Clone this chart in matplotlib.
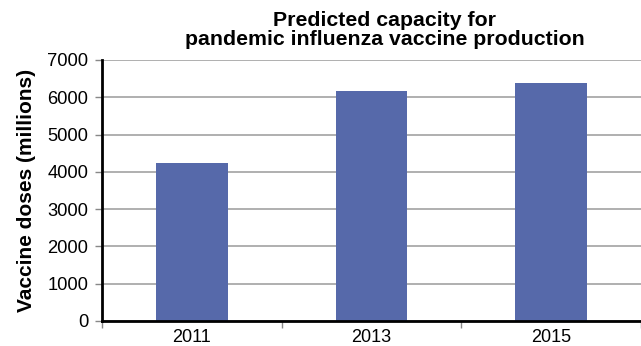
import matplotlib.pyplot as plt
import numpy as np

# Predicted pandemic vaccine production capacity
years = ['2011', '2013', '2015']
doses = [4250, 6170, 6370]

plt.rcParams['font.family'] = ['Liberation Sans', 'DejaVu Sans']

fig = plt.figure(figsize=(6.41, 3.46), dpi=100)
ax = fig.add_axes([0.159, 0.0723, 0.841, 0.7543])

x = np.arange(len(years))
ax.bar(x, doses, width=0.4, color='#5669AA', zorder=3)

ax.set_xlim(-0.5, len(years) - 0.5)
ax.set_ylim(0, 7000)
ax.set_yticks(np.arange(0, 7001, 1000))
ax.yaxis.grid(True, color='#9a9a9a', linewidth=1.1, zorder=0)

# category labels centred, tick marks on the boundaries
ax.set_xticks(x)
ax.set_xticklabels(years, fontsize=13)
ax.set_xticks(np.arange(-0.5, len(years)), minor=True)
ax.tick_params(axis='x', which='major', length=0, pad=6)
ax.tick_params(axis='x', which='minor', length=5, width=1, color='#888888')
ax.tick_params(axis='y', length=5, width=1, color='#888888', labelsize=13.2, pad=5)

for side in ['top', 'right']:
    ax.spines[side].set_visible(False)
ax.spines['left'].set_linewidth(2)
ax.spines['bottom'].set_linewidth(2)
ax.spines['left'].set_zorder(4)
ax.spines['bottom'].set_zorder(4)

ax.set_ylabel('Vaccine doses (millions)', fontsize=15, fontweight='bold', labelpad=8)
fig.text(0.6, 0.968, 'Predicted capacity for\npandemic influenza vaccine production',
         ha='center', va='top', fontsize=15.3, fontweight='bold', linespacing=1.0)

fig.savefig('out.png', dpi=100)
